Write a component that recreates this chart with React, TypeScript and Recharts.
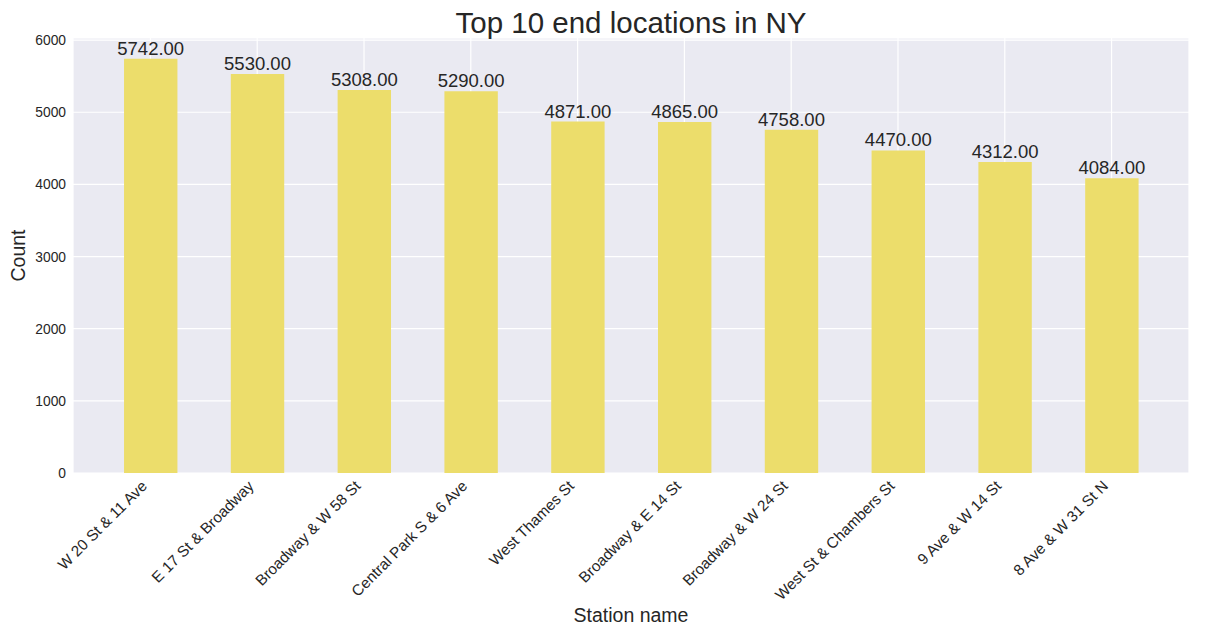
import React from "react";
import { BarChart, Bar, XAxis, YAxis, CartesianGrid, LabelList, Label, Customized } from "recharts";

const stations = [
  "W 20 St & 11 Ave",
  "E 17 St & Broadway",
  "Broadway & W 58 St",
  "Central Park S & 6 Ave",
  "West Thames St",
  "Broadway & E 14 St",
  "Broadway & W 24 St",
  "West St & Chambers St",
  "9 Ave & W 14 St",
  "8 Ave & W 31 St N",
];
const counts = [5742, 5530, 5308, 5290, 4871, 4865, 4758, 4470, 4312, 4084];
const yTicks = [0, 1000, 2000, 3000, 4000, 5000, 6000];
const xTicks = stations.map((_, i) => i);

const data = stations.map((name, i) => ({ idx: i, name, value: counts[i] }));

const FONT = "'Liberation Sans', Arial, sans-serif";
const TEXT = "#262626";

const XTick = (props: any) => {
  const { x, y, payload } = props;
  const ax = x - 2.5;
  const ay = y + 14;
  return (
    <text
      x={ax}
      y={ay}
      textAnchor="end"
      transform={`rotate(-45, ${ax}, ${ay})`}
      fontSize={15.3}
      fontFamily={FONT}
      fill={TEXT}
    >
      {stations[payload.value]}
    </text>
  );
};

const YTick = (props: any) => {
  const { x, y, payload } = props;
  return (
    <text x={x} y={y + 5} textAnchor="end" fontSize={13.8} fontFamily={FONT} fill={TEXT}>
      {payload.value}
    </text>
  );
};

const Title = () => (
  <text x={623} y={33} textAnchor="middle" fontSize={29.5} fontFamily={FONT} fill={TEXT}>
    Top 10 end locations in NY
  </text>
);

export default function App() {
  return (
    <div style={{ width: 1209, height: 626, marginTop: -8, background: "#fff" }}>
      <BarChart
        width={1209}
        height={626}
        data={data}
        margin={{ top: 38, right: 28, bottom: 0, left: 0 }}
      >
        <CartesianGrid fill="#EAEAF2" stroke="#ffffff" strokeWidth={1.2} />
        <XAxis
          dataKey="idx"
          type="number"
          domain={[-0.725, 9.725]}
          ticks={xTicks}
          interval={0}
          allowDataOverflow
          height={153}
          tickSize={0}
          tickMargin={0}
          axisLine={false}
          tickLine={false}
          tick={<XTick />}
        >
          <Label
            content={(p: any) => {
              const vb = p.viewBox;
              return (
                <text
                  x={vb.x + vb.width / 2}
                  y={622}
                  textAnchor="middle"
                  fontSize={19.5}
                  fontFamily={FONT}
                  fill={TEXT}
                >
                  Station name
                </text>
              );
            }}
          />
        </XAxis>
        <YAxis
          type="number"
          domain={[0, 6029]}
          ticks={yTicks}
          allowDataOverflow
          width={65}
          tickSize={0}
          tickMargin={7}
          axisLine={false}
          tickLine={false}
          tick={<YTick />}
        >
          <Label
            content={(p: any) => {
              const vb = p.viewBox;
              const cy = vb.y + vb.height / 2;
              return (
                <text
                  x={17}
                  y={cy}
                  textAnchor="middle"
                  transform={`rotate(-90, 17, ${cy})`}
                  fontSize={19.5}
                  fontFamily={FONT}
                  fill={TEXT}
                >
                  Count
                </text>
              );
            }}
          />
        </YAxis>
        <Bar dataKey="value" fill="#ECDD6B" barSize={53.4} isAnimationActive={false}>
          <LabelList
            dataKey="value"
            position="top"
            offset={4}
            formatter={(v: any) => Number(v).toFixed(2)}
            style={{ fontSize: 18.5, fontFamily: FONT, fill: TEXT }}
          />
        </Bar>
        <Customized component={<Title />} />
      </BarChart>
    </div>
  );
}
